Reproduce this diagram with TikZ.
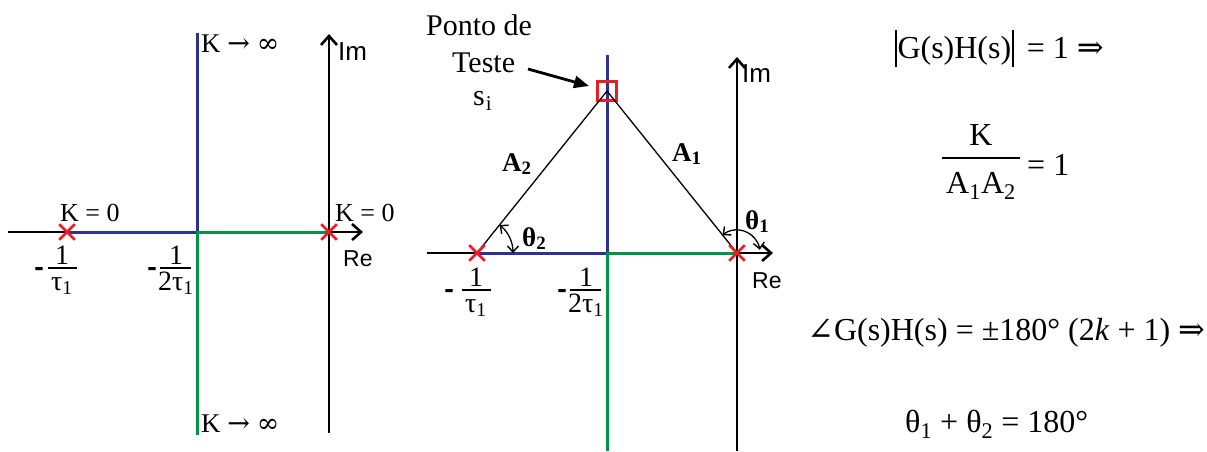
\documentclass[tikz,border=0pt]{standalone}
\usepackage{fontspec}
\setmainfont{Liberation Serif}
\setsansfont{Liberation Sans}
\newfontfamily\symf{DejaVu Serif}
\usetikzlibrary{arrows.meta,shapes.misc}
\definecolor{rlblue}{RGB}{46,49,146}
\definecolor{rlgreen}{RGB}{0,148,68}
\definecolor{rlred}{RGB}{237,28,36}
\tikzset{
  axisln/.style={line width=2.6pt,-{Straight Barb[length=9pt,width=16pt,line width=2.6pt]}},
  bluel/.style={rlblue,line width=3pt},
  greenl/.style={rlgreen,line width=3pt},
  thinl/.style={line width=1.3pt},
  angarr/.style={line width=1.3pt,{Straight Barb[length=6pt,width=11pt,line width=1.4pt]}-{Straight Barb[length=6pt,width=11pt,line width=1.4pt]}},
  polex/.style={draw=rlred,cross out,line width=2.6pt,minimum size=13pt,inner sep=0pt},
  lbl/.style={inner sep=0pt,anchor=base west},
  ctr/.style={inner sep=0pt,anchor=base},
  kfont/.style={font=\fontsize{26}{31}\selectfont},
  kinf/.style={font=\fontsize{27}{32}\selectfont},
  refont/.style={font=\sffamily\fontsize{23}{28}\selectfont},
  imfont/.style={font=\sffamily\fontsize{26}{31}\selectfont},
  frfont/.style={font=\fontsize{28}{33}\selectfont},
  mfont/.style={font=\symf\bfseries\fontsize{24}{29}\selectfont},
  bigfont/.style={font=\fontsize{30}{36}\selectfont},
  eqfont/.style={font=\fontsize{32}{38}\selectfont},
  bfont/.style={font=\bfseries\fontsize{27}{32}\selectfont},
  fbar/.style={fill=black,inner sep=0pt,minimum height=1.4pt},
}
\begin{document}
\begin{tikzpicture}[x=1pt,y=1pt]
\useasboundingbox (0,0) rectangle (1207,-451);
% ---------- left diagram ----------
\coordinate (Lre0) at (8,-232);
\coordinate (Lre1) at (363,-232);
\coordinate (Lim0) at (329,-433);
\coordinate (Lim1) at (329,-34);
\coordinate (Lb) at (197,-232);
\coordinate (Lbtop) at (197,-33);
\coordinate (Lgbot) at (197,-435);
\coordinate (Lp1c) at (67,-232);
\coordinate (Lp2c) at (329,-232);
\draw[axisln] (Lre0) -- (Lre1);
\draw[axisln] (Lim0) -- (Lim1);
\draw[bluel] (Lp1c) -- (Lb) -- (Lbtop);
\draw[greenl] (Lp2c) -- (Lb) -- (Lgbot);
\node[polex] (Lp1) at (Lp1c) {};
\node[polex] (Lp2) at (Lp2c) {};
\node[lbl,kfont] (Lk0a) at (60,-221) {K = 0};
\node[lbl,kfont] (Lk0b) at (335,-221) {K = 0};
\node[lbl,refont] (Lre) at (343,-266) {Re};
\node[lbl,imfont] (Lim) at (338,-60) {Im};
\node[lbl,kinf] (Lkt) at (201,-52) {K {\symf →} {\symf ∞}};
\node[lbl,kinf] (Lkb) at (201,-432) {K {\symf →} {\symf ∞}};
% fractions
\node[ctr,mfont] (Lf1m) at (39,-275) {-};
\node[ctr,frfont] (Lf1n) at (62,-264) {1};
\node[fbar,minimum width=29pt] (Lf1b) at (62.5,-268) {};
\node[ctr,frfont] (Lf1d) at (62,-290) {τ\textsubscript{1}};
\node[ctr,mfont] (Lf2m) at (152,-275) {-};
\node[ctr,frfont] (Lf2n) at (176,-264) {1};
\node[fbar,minimum width=31pt] (Lf2b) at (175.5,-268) {};
\node[ctr,frfont] (Lf2d) at (176,-290) {2τ\textsubscript{1}};
% ---------- middle diagram ----------
\coordinate (Mre0) at (427,-253);
\coordinate (Mre1) at (773,-253);
\coordinate (Mim0) at (737,-451);
\coordinate (Mim1) at (737,-57);
\coordinate (Mb) at (607,-253);
\coordinate (Mbtop) at (607,-55);
\coordinate (Mgbot) at (607,-451);
\coordinate (Mp1c) at (477,-253);
\coordinate (Mp2c) at (737,-253);
\draw[axisln] (Mre0) -- (Mre1);
\draw[axisln] (Mim0) -- (Mim1);
\draw[bluel] (Mp1c) -- (Mb) -- (Mbtop);
\draw[greenl] (Mp2c) -- (Mb) -- (Mgbot);
\node[draw=rlred,line width=2.5pt,minimum size=19pt,inner sep=0pt] (tp) at (607,-91) {};
\draw[thinl] (Mp1c) -- (tp.center) -- (Mp2c);
\node[polex] (Mp1) at (Mp1c) {};
\node[polex] (Mp2) at (Mp2c) {};
\draw[angarr] ([shift={(0:36pt)}]Mp1.center) arc[start angle=0,end angle=51,radius=36pt];
\draw[angarr] ([shift={(129:23pt)}]Mp2.center) arc[start angle=129,end angle=8,radius=23pt];
\node[lbl,bigfont] (pt1) at (426,-35) {Ponto de};
\node[lbl,bigfont] (pt2) at (452,-72) {Teste};
\node[lbl,bigfont] (si) at (473,-105) {s\textsubscript{\kern1pt i}};
\coordinate (ar0) at (528,-69);
\coordinate (ar1) at (589,-86);
\draw[line width=2.8pt,-{Triangle[length=15pt,width=12pt]}] (ar0) -- (ar1);
\node[lbl,bfont] (A2) at (502,-171) {A\textsubscript{2}};
\node[lbl,bfont] (A1) at (672,-161) {A\textsubscript{1}};
\node[lbl,bfont] (th2) at (522,-246) {θ\textsubscript{2}};
\node[lbl,bfont] (th1) at (745,-229) {θ\textsubscript{1}};
\node[lbl,refont] (Mre) at (752,-288) {Re};
\node[lbl,imfont] (Mim) at (742,-82) {Im};
\node[ctr,mfont] (Mf1m) at (449,-297) {-};
\node[ctr,frfont] (Mf1n) at (476,-286) {1};
\node[fbar,minimum width=29pt] (Mf1b) at (476.5,-290) {};
\node[ctr,frfont] (Mf1d) at (476,-312) {τ\textsubscript{1}};
\node[ctr,mfont] (Mf2m) at (562,-297) {-};
\node[ctr,frfont] (Mf2n) at (586,-286) {1};
\node[fbar,minimum width=31pt] (Mf2b) at (585.5,-290) {};
\node[ctr,frfont] (Mf2d) at (586,-312) {2τ\textsubscript{1}};
% ---------- equations ----------
\node[lbl,eqfont] (e1) at (895,-58) {\rule[-9pt]{1.3pt}{37pt}\kern1pt G(s)H(s)\kern1pt\rule[-9pt]{1.3pt}{37pt}\, = 1 {\symf ⇒}};
\node[ctr,eqfont] (e2n) at (981,-145) {K};
\node[fbar,minimum width=78pt] (e2b) at (981,-158) {};
\node[ctr,eqfont] (e2d) at (981,-193) {A\textsubscript{1}A\textsubscript{2}};
\node[lbl,eqfont] (e2r) at (1027,-175) {= 1};
\node[lbl,eqfont] (e3) at (807,-340) {{\symf ∠}G(s)H(s) = ±180° (2\textit{k} + 1) {\symf ⇒}};
\node[lbl,eqfont] (e4) at (905,-432) {θ\textsubscript{1} + θ\textsubscript{2} = 180°};
\end{tikzpicture}
\end{document}
